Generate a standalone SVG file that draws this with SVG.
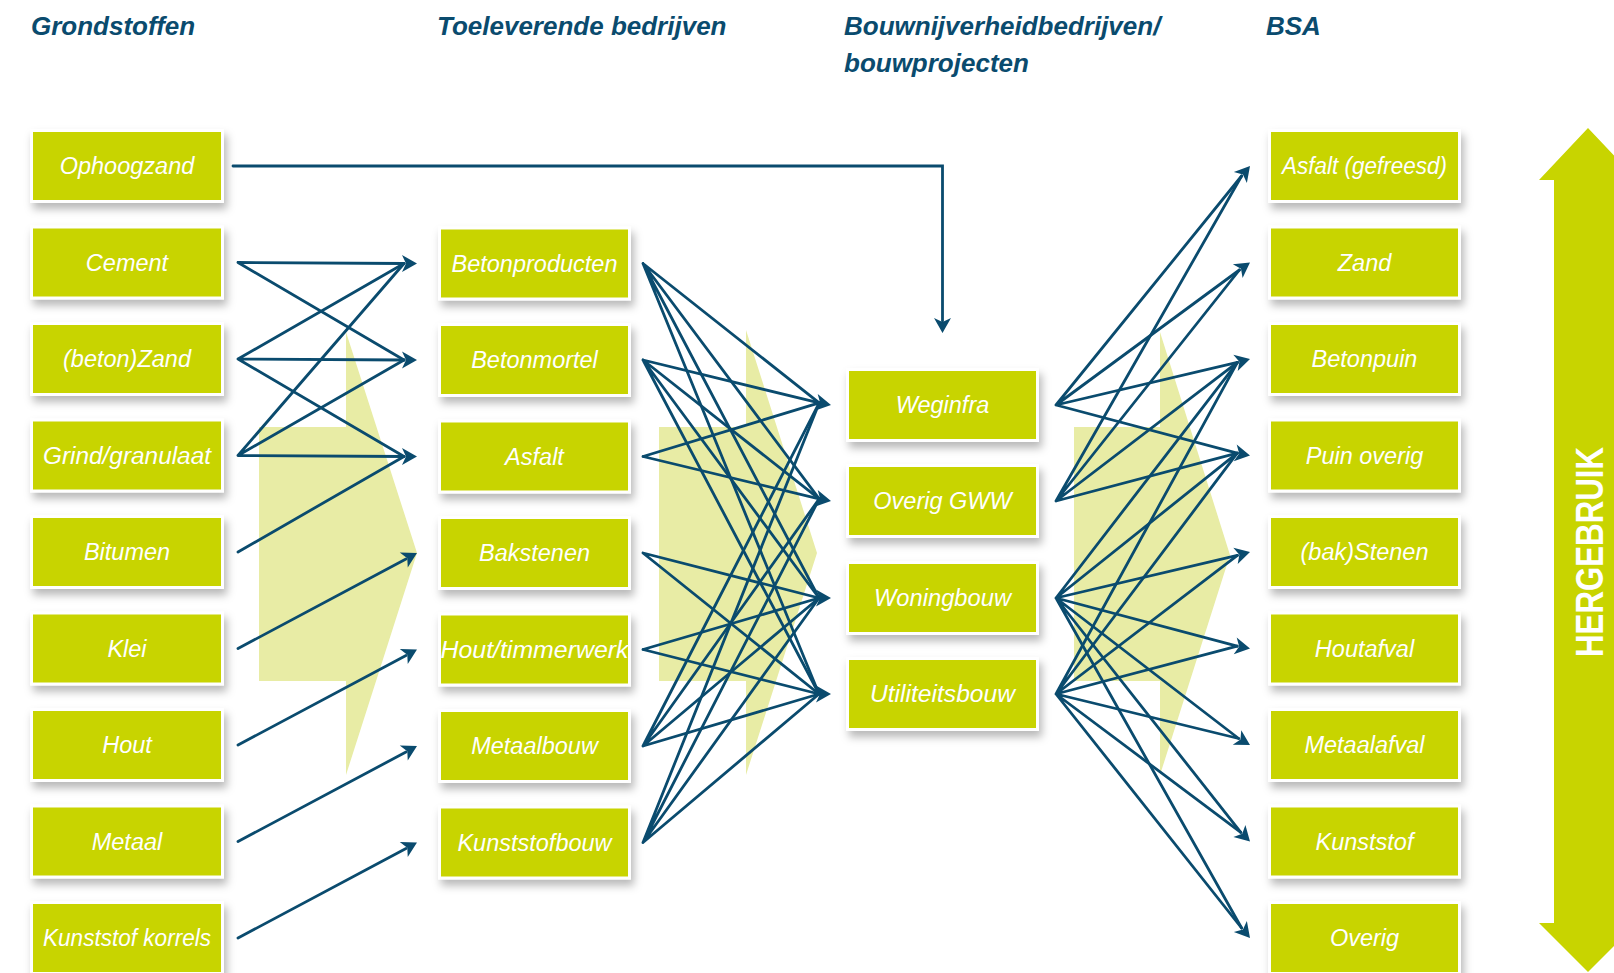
<svg xmlns="http://www.w3.org/2000/svg" xmlns:xlink="http://www.w3.org/1999/xlink" width="1614" height="973" viewBox="0 0 1614 973">
  <defs>
    <filter id="shadow" x="-10%" y="-20%" width="130%" height="160%">
      <feDropShadow dx="3" dy="6" stdDeviation="4" flood-color="#000" flood-opacity="0.28"/>
    </filter>
    <path id="ah" d="M0,0 L-15,-8.5 L-11,0 L-15,8.5 Z"/>
  </defs>
  <style>
    .frame { fill: #ffffff; filter: url(#shadow); }
    .fill { fill: #c8d400; }
    .lbl { font-family: "Liberation Sans", Arial, sans-serif; font-style: italic; font-size: 23.5px; fill: #ffffff; text-anchor: middle; }
    .hdr { font-family: "Liberation Sans", Arial, sans-serif; font-style: italic; font-weight: bold; font-size: 26px; fill: #0a4b6e; }
    .pale { fill: #e8eca5; }
    .conn path { fill: none; stroke: #0a4b6e; stroke-width: 2.8; stroke-linecap: round; stroke-linejoin: miter; }
    .conn use { fill: #0a4b6e; }
    .big { fill: #c8d400; }
    .vert { font-family: "Liberation Sans", Arial, sans-serif; font-weight: bold; font-size: 38px; fill: #ffffff; text-anchor: middle; }
  </style>

  <rect width="1614" height="973" fill="#ffffff"/>

  <!-- pale flow arrows behind the connectors -->
  <g id="flow-bands">
    <polygon class="pale" points="259,427 346,427 346,332 417,553 346,775 346,681 259,681"/>
    <polygon class="pale" points="659,427 746,427 746,330 817,553 746,775 746,681 659,681"/>
    <polygon class="pale" points="1074,427 1160,427 1160,332 1230,555 1160,775 1160,681 1074,681"/>
  </g>

  <!-- double-headed reuse arrow -->
  <g id="hergebruik">
    <polygon class="big" points="1588,128 1637,180 1622,180 1622,923 1637,923 1588,972 1539,923 1554,923 1554,180 1539,180"/>
    <text class="vert" transform="translate(1603,552) rotate(-90)" x="0" y="0" textLength="210" lengthAdjust="spacingAndGlyphs">HERGEBRUIK</text>
  </g>

  <!-- column headings -->
  <g id="headings">
    <text class="hdr" x="31" y="35">Grondstoffen</text>
    <text class="hdr" x="437" y="35">Toeleverende bedrijven</text>
    <text class="hdr" x="844" y="35">Bouwnijverheidbedrijven/</text>
    <text class="hdr" x="844" y="72">bouwprojecten</text>
    <text class="hdr" x="1266" y="35">BSA</text>
  </g>

  <!-- raw materials -->
  <g id="n-ophoogzand"><rect class="frame" x="30" y="129" width="194" height="74"/><rect class="fill" x="33" y="132" width="188" height="68"/><text class="lbl" x="127" y="174">Ophoogzand</text></g>
  <g id="n-cement"><rect class="frame" x="30" y="225.5" width="194" height="74"/><rect class="fill" x="33" y="228.5" width="188" height="68"/><text class="lbl" x="127" y="270.5">Cement</text></g>
  <g id="n-betonzand"><rect class="frame" x="30" y="322" width="194" height="74"/><rect class="fill" x="33" y="325" width="188" height="68"/><text class="lbl" x="127" y="367">(beton)Zand</text></g>
  <g id="n-grind"><rect class="frame" x="30" y="418.5" width="194" height="74"/><rect class="fill" x="33" y="421.5" width="188" height="68"/><text class="lbl" x="127" y="463.5" textLength="168" lengthAdjust="spacingAndGlyphs">Grind/granulaat</text></g>
  <g id="n-bitumen"><rect class="frame" x="30" y="515" width="194" height="74"/><rect class="fill" x="33" y="518" width="188" height="68"/><text class="lbl" x="127" y="560">Bitumen</text></g>
  <g id="n-klei"><rect class="frame" x="30" y="611.5" width="194" height="74"/><rect class="fill" x="33" y="614.5" width="188" height="68"/><text class="lbl" x="127" y="656.5">Klei</text></g>
  <g id="n-hout"><rect class="frame" x="30" y="708" width="194" height="74"/><rect class="fill" x="33" y="711" width="188" height="68"/><text class="lbl" x="127" y="753">Hout</text></g>
  <g id="n-metaal"><rect class="frame" x="30" y="804.5" width="194" height="74"/><rect class="fill" x="33" y="807.5" width="188" height="68"/><text class="lbl" x="127" y="849.5">Metaal</text></g>
  <g id="n-kunststofkorrels"><rect class="frame" x="30" y="901" width="194" height="74"/><rect class="fill" x="33" y="904" width="188" height="68"/><text class="lbl" x="127" y="946" textLength="168" lengthAdjust="spacingAndGlyphs">Kunststof korrels</text></g>

  <!-- supplying companies -->
  <g id="n-betonproducten"><rect class="frame" x="438" y="226.5" width="193" height="74"/><rect class="fill" x="441" y="229.5" width="187" height="68"/><text class="lbl" x="534.5" y="271.5">Betonproducten</text></g>
  <g id="n-betonmortel"><rect class="frame" x="438" y="323" width="193" height="74"/><rect class="fill" x="441" y="326" width="187" height="68"/><text class="lbl" x="534.5" y="368">Betonmortel</text></g>
  <g id="n-asfalt"><rect class="frame" x="438" y="419.5" width="193" height="74"/><rect class="fill" x="441" y="422.5" width="187" height="68"/><text class="lbl" x="534.5" y="464.5">Asfalt</text></g>
  <g id="n-bakstenen"><rect class="frame" x="438" y="516" width="193" height="74"/><rect class="fill" x="441" y="519" width="187" height="68"/><text class="lbl" x="534.5" y="561">Bakstenen</text></g>
  <g id="n-houttimmerwerk"><rect class="frame" x="438" y="612.5" width="193" height="74"/><rect class="fill" x="441" y="615.5" width="187" height="68"/><text class="lbl" x="534.5" y="657.5" textLength="188" lengthAdjust="spacingAndGlyphs">Hout/timmerwerk</text></g>
  <g id="n-metaalbouw"><rect class="frame" x="438" y="709" width="193" height="74"/><rect class="fill" x="441" y="712" width="187" height="68"/><text class="lbl" x="534.5" y="754">Metaalbouw</text></g>
  <g id="n-kunststofbouw"><rect class="frame" x="438" y="805.5" width="193" height="74"/><rect class="fill" x="441" y="808.5" width="187" height="68"/><text class="lbl" x="534.5" y="850.5">Kunststofbouw</text></g>

  <!-- construction companies / projects -->
  <g id="n-weginfra"><rect class="frame" x="846" y="368" width="193" height="74"/><rect class="fill" x="849" y="371" width="187" height="68"/><text class="lbl" x="942.5" y="413">Weginfra</text></g>
  <g id="n-overiggww"><rect class="frame" x="846" y="464" width="193" height="74"/><rect class="fill" x="849" y="467" width="187" height="68"/><text class="lbl" x="942.5" y="509">Overig GWW</text></g>
  <g id="n-woningbouw"><rect class="frame" x="846" y="561" width="193" height="74"/><rect class="fill" x="849" y="564" width="187" height="68"/><text class="lbl" x="942.5" y="606" textLength="137" lengthAdjust="spacingAndGlyphs">Woningbouw</text></g>
  <g id="n-utiliteitsbouw"><rect class="frame" x="846" y="657" width="193" height="74"/><rect class="fill" x="849" y="660" width="187" height="68"/><text class="lbl" x="942.5" y="702" textLength="145" lengthAdjust="spacingAndGlyphs">Utiliteitsbouw</text></g>

  <!-- BSA waste streams -->
  <g id="n-asfaltgefreesd"><rect class="frame" x="1268" y="129" width="193" height="74"/><rect class="fill" x="1271" y="132" width="187" height="68"/><text class="lbl" x="1364.5" y="174" textLength="165" lengthAdjust="spacingAndGlyphs">Asfalt (gefreesd)</text></g>
  <g id="n-zand"><rect class="frame" x="1268" y="225.5" width="193" height="74"/><rect class="fill" x="1271" y="228.5" width="187" height="68"/><text class="lbl" x="1364.5" y="270.5">Zand</text></g>
  <g id="n-betonpuin"><rect class="frame" x="1268" y="322" width="193" height="74"/><rect class="fill" x="1271" y="325" width="187" height="68"/><text class="lbl" x="1364.5" y="367">Betonpuin</text></g>
  <g id="n-puinoverig"><rect class="frame" x="1268" y="418.5" width="193" height="74"/><rect class="fill" x="1271" y="421.5" width="187" height="68"/><text class="lbl" x="1364.5" y="463.5">Puin overig</text></g>
  <g id="n-bakstenen-bsa"><rect class="frame" x="1268" y="515" width="193" height="74"/><rect class="fill" x="1271" y="518" width="187" height="68"/><text class="lbl" x="1364.5" y="560">(bak)Stenen</text></g>
  <g id="n-houtafval"><rect class="frame" x="1268" y="611.5" width="193" height="74"/><rect class="fill" x="1271" y="614.5" width="187" height="68"/><text class="lbl" x="1364.5" y="656.5">Houtafval</text></g>
  <g id="n-metaalafval"><rect class="frame" x="1268" y="708" width="193" height="74"/><rect class="fill" x="1271" y="711" width="187" height="68"/><text class="lbl" x="1364.5" y="753">Metaalafval</text></g>
  <g id="n-kunststof"><rect class="frame" x="1268" y="804.5" width="193" height="74"/><rect class="fill" x="1271" y="807.5" width="187" height="68"/><text class="lbl" x="1364.5" y="849.5">Kunststof</text></g>
  <g id="n-overig"><rect class="frame" x="1268" y="901" width="193" height="74"/><rect class="fill" x="1271" y="904" width="187" height="68"/><text class="lbl" x="1364.5" y="946">Overig</text></g>

  <!-- connectors -->
  <g id="connectors" class="conn">
    <!-- Ophoogzand straight to Weginfra -->
    <path d="M233,166 H942.5 V321"/>
    <use xlink:href="#ah" href="#ah" transform="translate(942.5,333) rotate(90)"/>

    <!-- raw materials to suppliers -->
    <path d="M238,262.5 L404,263.5 M238,262.5 L404,360"/>
    <path d="M238,359 L404,263.5 M238,359 L404,360 M238,359 L404,456.5"/>
    <path d="M238,455.5 L404,263.5 M238,455.5 L404,360 M238,455.5 L404,456.5"/>
    <path d="M238,552 L404,456.5"/>
    <path d="M238,648.5 L406,559"/>
    <path d="M238,745 L406,655.5"/>
    <path d="M238,841.5 L406,752"/>
    <path d="M238,938 L406,848.5"/>
    <use xlink:href="#ah" href="#ah" transform="translate(417,263.5)"/>
    <use xlink:href="#ah" href="#ah" transform="translate(417,360)"/>
    <use xlink:href="#ah" href="#ah" transform="translate(417,456.5)"/>
    <use xlink:href="#ah" href="#ah" transform="translate(417,553) rotate(-28)"/>
    <use xlink:href="#ah" href="#ah" transform="translate(417,649.5) rotate(-28)"/>
    <use xlink:href="#ah" href="#ah" transform="translate(417,746) rotate(-28)"/>
    <use xlink:href="#ah" href="#ah" transform="translate(417,842.5) rotate(-28)"/>

    <!-- suppliers to construction -->
    <path d="M643,263.5 L819.2,402.9 M643,263.5 L819.2,498.9 M643,263.5 L819,598 M643,263.5 L819,694"/>
    <path d="M643,360 L819.2,402.9 M643,360 L819.2,498.9 M643,360 L819,598 M643,360 L819,694"/>
    <path d="M643,456.5 L819.2,402.9 M643,456.5 L819.2,498.9"/>
    <path d="M643,553 L819,598 M643,553 L819,694"/>
    <path d="M643,649.5 L819,598 M643,649.5 L819,694"/>
    <path d="M643,746 L819.2,402.9 M643,746 L819.2,498.9 M643,746 L819,598 M643,746 L819,694"/>
    <path d="M643,842.5 L819.2,402.9 M643,842.5 L819.2,498.9 M643,842.5 L819,598 M643,842.5 L819,694"/>
    <use xlink:href="#ah" href="#ah" transform="translate(831,405) rotate(10)"/>
    <use xlink:href="#ah" href="#ah" transform="translate(831,501) rotate(10)"/>
    <use xlink:href="#ah" href="#ah" transform="translate(831,598)"/>
    <use xlink:href="#ah" href="#ah" transform="translate(831,694)"/>

    <!-- construction to waste streams -->
    <path d="M1056,405 L1241.6,176 M1056,405 L1239.4,270 M1056,405 L1237.4,362.4 M1056,405 L1237.2,453.2"/>
    <path d="M1056,501 L1241.6,176 M1056,501 L1239.4,270 M1056,501 L1237.4,362.4 M1056,501 L1237.2,453.2"/>
    <path d="M1056,598 L1237.4,362.4 M1056,598 L1237.2,453.2 M1056,598 L1237.4,555.4 M1056,598 L1237.2,646.2 M1056,598 L1238.7,738.5 M1056,598 L1240.8,832.3 M1056,598 L1241.6,928"/>
    <path d="M1056,694 L1237.4,362.4 M1056,694 L1237.2,453.2 M1056,694 L1237.4,555.4 M1056,694 L1237.2,646.2 M1056,694 L1238.7,738.5 M1056,694 L1240.8,832.3 M1056,694 L1241.6,928"/>
    <use xlink:href="#ah" href="#ah" transform="translate(1250,166) rotate(-50)"/>
    <use xlink:href="#ah" href="#ah" transform="translate(1250,262.5) rotate(-35)"/>
    <use xlink:href="#ah" href="#ah" transform="translate(1250,359) rotate(-15)"/>
    <use xlink:href="#ah" href="#ah" transform="translate(1250,455.5) rotate(10)"/>
    <use xlink:href="#ah" href="#ah" transform="translate(1250,552) rotate(-15)"/>
    <use xlink:href="#ah" href="#ah" transform="translate(1250,648.5) rotate(10)"/>
    <use xlink:href="#ah" href="#ah" transform="translate(1250,745) rotate(30)"/>
    <use xlink:href="#ah" href="#ah" transform="translate(1250,841.5) rotate(45)"/>
    <use xlink:href="#ah" href="#ah" transform="translate(1250,938) rotate(50)"/>
  </g>
</svg>
